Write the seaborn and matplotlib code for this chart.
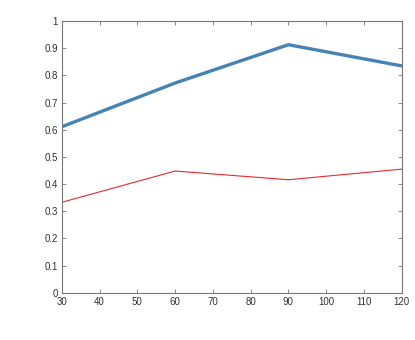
import matplotlib
matplotlib.use("Agg")
import matplotlib.pyplot as plt
import seaborn as sns
import pandas as pd

x_vals = [30, 60, 90, 120]
series_a = [0.611, 0.772, 0.913, 0.835]
series_b = [0.333, 0.448, 0.416, 0.455]
x_ticks = [30, 40, 50, 60, 70, 80, 90, 100, 110, 120]
y_ticks = [0, 0.1, 0.2, 0.3, 0.4, 0.5, 0.6, 0.7, 0.8, 0.9, 1]
y_labels = ["0", "0.1", "0.2", "0.3", "0.4", "0.5", "0.6", "0.7", "0.8", "0.9", "1"]

sns.set_style("white")
plt.rcParams['font.family'] = ['Liberation Sans', 'DejaVu Sans']

df_a = pd.DataFrame({"x": x_vals, "y": series_a})
df_b = pd.DataFrame({"x": x_vals, "y": series_b})

fig = plt.figure(figsize=(4.15, 3.4), dpi=100)
ax = fig.add_axes([0.149, 0.139, 0.819, 0.799])
sns.lineplot(data=df_a, x="x", y="y", ax=ax, color="#4682b4", linewidth=2.4)
sns.lineplot(data=df_b, x="x", y="y", ax=ax, color="#e8292b", linewidth=0.8)

ax.set_xlim(30, 120)
ax.set_ylim(0, 1)
ax.set_xticks(x_ticks)
ax.set_xticklabels([str(t) for t in x_ticks])
ax.set_yticks(y_ticks)
ax.set_yticklabels(y_labels)
ax.set_xlabel("")
ax.set_ylabel("")
for s in ax.spines.values():
    s.set_visible(True)
    s.set_color("#777777")
    s.set_linewidth(0.8)
ax.tick_params(direction="in", length=3, width=0.6, colors="#777777",
               labelcolor="#333333", labelsize=7, top=True, right=True,
               bottom=True, left=True, pad=3)
fig.savefig("out.png", dpi=100)
